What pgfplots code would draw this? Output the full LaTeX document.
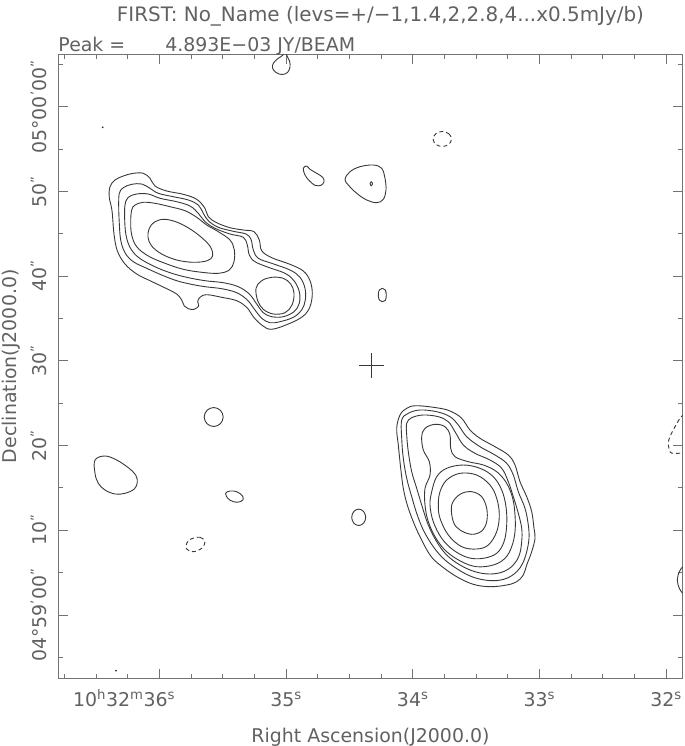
\documentclass[border=0pt]{standalone}
\usepackage{fontspec}
\setmainfont{DejaVu Sans}
\usepackage{pgfplots}
\pgfplotsset{compat=1.18}
\definecolor{txt}{gray}{0.38}
\definecolor{cnt}{gray}{0.22}
\definecolor{frm}{gray}{0.45}
\newcommand\tf{\fontsize{19}{23}\selectfont}
\newcommand\hh[1]{\textsuperscript{#1}}

\begin{document}
\begin{tikzpicture}
\useasboundingbox (0,0) rectangle (685bp,746bp);
\begin{axis}[
  at={(58.3bp,67.7bp)}, anchor=south west,
  scale only axis, width=624.4bp, height=624bp,
  % positions are map pixels of the FIRST cutout, y counted downwards
  xmin=58.3, xmax=682.7, ymin=54.3, ymax=678.3, y dir=reverse,
  clip mode=individual,
  axis line style={frm, line width=0.8bp},
  tick style={frm, line width=0.8bp},
  major tick length=9.5bp, minor tick length=4.5bp,
  xtick={159.3,286,412.7,539.3,666},
  xticklabels={\llap{10\hh{h}32\hh{m}}36\hh{s},35\hh{s},34\hh{s},33\hh{s},32\hh{s}},
  minor xtick={64.3,96,127.7,191,222.7,254.3,317.7,349.3,381,444.3,476,507.7,571,602.7,634.3},
  ytick={106.7,191.4,276.1,360.8,445.5,530.2,614.9},
  yticklabels={05°00\hh{'}00\hh{''},50\hh{''},40\hh{''},30\hh{''},20\hh{''},10\hh{''},04°59\hh{'}00\hh{''}\hspace{30bp}},
  minor ytick={64.4,149,233.7,318.4,403.1,487.8,572.5,657.2},
  tick label style={font=\tf, text=txt},
  xticklabel style={anchor=base, yshift=-27.7bp},
  yticklabel style={xshift=-11.6bp, rotate=90, anchor=base},
  title={FIRST: No\_Name (levs=+/−1,1.4,2,2.8,4...x0.5mJy/b)},
  every axis title/.style={at={(axis description cs:0.516,1)}, anchor=base, yshift=32.5bp,
    font=\fontsize{20}{24}\selectfont, text=txt},
  xlabel={Right Ascension(J2000.0)},
  every axis x label/.style={at={(axis description cs:0.5,0)}, anchor=base, yshift=-63.7bp,
    font=\tf, text=txt},
  ylabel={Declination(J2000.0)},
  every axis y label/.style={at={(axis description cs:0,0.5)}, xshift=-41.6bp, rotate=90, anchor=base,
    font=\tf, text=txt},
  c/.style={cnt, line width=0.9bp, smooth cycle, tension=0.6},
  o/.style={cnt, line width=0.9bp, smooth, tension=0.6},
  n/.style={c, dash pattern=on 4bp off 3bp},
]
\node[anchor=base west, inner sep=0pt, font=\tf, text=txt, yshift=2.6bp] at (axis description cs:0,1)
  {Peak =\hspace{40bp}4.893E−03 JY/BEAM};

% north-east lobe
\addplot[c] coordinates {(110,186.7)(115,180)(123.3,176)(133.3,173.3)(143.3,173.3)(150,178.3)(155,186)(166.7,191)(183.3,194.3)(196.7,199.3)(205,208.3)(208.3,216.7)(216.7,222.7)(230,227.7)(243.3,230)(254,231.7)(259.3,240)(261.7,250.7)(271.7,257.7)(290,264.3)(303.3,271)(310,280.7)(312.3,293.3)(310,306.7)(303.3,316)(290,323.3)(271.7,329.3)(261.7,325)(253.3,316.7)(246.7,307.3)(236.7,300.7)(221.7,297.3)(206.7,294.7)(200,297.3)(197.7,301.7)(198.7,306)(194,309.3)(188.3,308.7)(184.3,306)(181.7,300)(176.7,294)(166.7,288.7)(150,280.7)(136.7,274)(125,264)(117.3,250.7)(114,234)(112,210.7)(109.3,197.3)};
\addplot[c] coordinates {(119.3,193.3)(123.3,187.7)(131.7,184.3)(141.7,184)(150,188.3)(158.3,193.3)(173.3,196.7)(188.3,200)(198.3,205)(203.3,213.3)(208.3,220.7)(218.3,227.3)(233.3,231.3)(246,234)(251,239.3)(253.3,250)(258.3,258.3)(271.7,263.3)(290,270)(300,277.3)(305,288.3)(305.3,300)(301.7,310)(293.3,317.3)(280,321.7)(270,322.7)(261.7,318.3)(255,310)(247.3,300)(236.7,292.7)(221.7,288.7)(205,286.7)(190,284)(176.7,280.7)(161.7,275)(146.7,268.3)(133.3,261.7)(125,252.7)(120.7,240)(119.3,223.3)(118.7,206.7)};
\addplot[c] coordinates {(125,205)(128.3,197.3)(136.7,194)(148.3,194)(160,198.3)(176.7,201.7)(190,206)(198.3,213.3)(205,221.7)(215,228.3)(230,234)(243.3,237.3)(247.3,245)(249.3,255)(255,261.7)(268.3,267.3)(285,273.3)(294,280.7)(299.3,291.7)(299.3,303.3)(294,311.7)(283.3,316.7)(271.7,316.7)(263.3,312.7)(256.7,304)(249.3,294)(238.3,286.7)(223.3,282.7)(205,280.7)(186.7,277.3)(170,272.7)(153.3,266)(138.3,257.3)(130,247.3)(126,235)(124.7,220)};
\addplot[c] coordinates {(131.7,210)(135,205)(143.3,202.3)(155,203.3)(170,206.7)(185,210.7)(196.7,217.3)(206.7,225)(218.3,231.7)(230,240)(234.3,250)(234,261.7)(229.3,270)(218.3,273.3)(201.7,272.3)(183.3,269.3)(165,263.3)(148.3,256)(136.7,246.7)(131.7,235)(130.7,221.7)};
\addplot[c] coordinates {(256,288.3)(261.7,280.7)(271.7,277.3)(283.3,278.3)(290.7,284)(294,293.3)(292,305)(285,312.7)(273.3,314)(263.3,309.3)(257.7,300.7)};
\addplot[c] coordinates {(149.3,228.3)(155,221.7)(165,219.3)(178.3,222.7)(191.7,230)(203.3,239)(210.7,247.3)(212.7,255.7)(207.3,260.7)(193.3,262.3)(176.7,260)(161.7,254)(151.7,246)(148,237.3)};

% south-west lobe
\addplot[c] coordinates {(396.7,428.3)(400,415)(406.7,408.3)(416.7,405.7)(440,408.3)(451.7,411.7)(461.7,418.3)(470,430)(480,438.3)(495,446.7)(508.3,455)(515,465)(520,481.7)(526.7,496.7)(531.7,511.7)(534,528.3)(535,538.3)(531.7,551.7)(526.7,565)(523.3,575)(516.7,581.7)(506.7,585)(490,586.7)(473.3,584.3)(456.7,576.7)(440,565)(430,555)(420,536.7)(413.3,521.7)(407.3,505)(403.3,488.3)(400.7,468.3)(398.3,445)};
\addplot[c] coordinates {(401.7,438.3)(401.7,420)(408.3,413.3)(420,410)(436.7,411.7)(450,416.7)(458.3,425)(466.7,436.7)(480,446.7)(495,455)(506.7,463.3)(513.3,475)(518.3,491.7)(525,508.3)(528.3,525)(529,538.3)(526.7,551.7)(522.7,563.3)(516.7,571.7)(506.7,578.3)(493.3,580.7)(476.7,578.3)(461.7,571.7)(445,560)(433.3,546.7)(423.3,530)(416.7,513.3)(411.7,496.7)(406.7,478.3)(403.3,458.3)};
\addplot[c] coordinates {(406.7,435)(406.7,423.3)(411.7,417.7)(423.3,415)(438.3,416.7)(448.3,421.7)(455,431.7)(463.3,445)(475,453.3)(490,460)(501.7,468.3)(508.3,481.7)(513.3,496.7)(518.3,513.3)(521.7,528.3)(521.7,541.7)(519.3,555)(513.3,565)(503.3,571.7)(490,574)(475,571.7)(460,565)(446.7,555)(436.7,541.7)(428.3,525)(422.7,508.3)(416.7,488.3)(411.7,471.7)(408.3,451.7)};
\addplot[c] coordinates {(421.7,436.7)(425,428.3)(435,424.3)(445,426.7)(450,435)(450.7,448.3)(455,456.7)(468.3,461.7)(483.3,465)(496.7,471.7)(506.7,483.3)(512.7,498.3)(515,515)(515,531.7)(511.7,546.7)(505,558.3)(493.3,565)(476.7,566.7)(461.7,561.7)(446.7,551.7)(436,538.3)(428.3,521.7)(425,505)(425,488.3)(430,475)(429.3,461.7)(423.3,450)};
\addplot[c] coordinates {(430,505)(431.7,491.7)(436.7,476.7)(446.7,468.3)(463.3,465)(480,468.3)(493.3,476.7)(501.7,490)(506,506.7)(506.7,525)(504,541.7)(496.7,553.3)(483.3,558.3)(468.3,557.7)(453.3,550)(441.7,538.3)(433.3,521.7)};
\addplot[c] coordinates {(438.3,505)(440,491.7)(446.7,480)(460,473.3)(476.7,475)(490,485)(496.7,498.3)(499.3,515)(496.7,531.7)(488.3,545)(476.7,549)(461.7,546.7)(448.3,535)(440,518.3)};
\addplot[c] coordinates {(451.7,505)(460,494.3)(471.7,491.7)(481.7,496.7)(486.7,508.3)(486.7,521.7)(481.7,531)(471.7,534.3)(460,530)(453.3,521.7)};

% small islands
\addplot[c] coordinates {(95,460)(105,456)(116.7,460)(128.3,467.7)(135.7,475)(137.3,482.3)(134.3,489)(125,493.3)(115,494)(105,490)(98.3,483.3)(95,473.3)};
\addplot[c] coordinates {(213.7,407.5)(220.4,410.3)(223.2,417)(220.4,423.7)(213.7,426.5)(207,423.7)(204.2,417)(207,410.3)};
\addplot[c] coordinates {(225.7,493.3)(230,491)(236.7,491.7)(242.3,495.7)(243,499.7)(239,502)(233.3,501.7)(227.7,498.3)};
\addplot[c] coordinates {(358.7,509.1)(363.6,511.5)(365.7,517.3)(363.6,523.1)(358.7,525.5)(353.8,523.1)(351.7,517.3)(353.8,511.5)};
\addplot[c] coordinates {(303.3,168.3)(306.7,166)(310,169.3)(316.7,173.3)(322.7,177.3)(324,181.7)(321,185.3)(315,185.3)(309.3,180.7)(305,175)};
\addplot[c] coordinates {(345,179.3)(350,171.7)(360,166.7)(373.3,165)(381.7,168.3)(385,178.3)(386,190)(383.3,199.3)(376.7,202.7)(366.7,200)(356.7,193.3)(348.3,185)};
\addplot[c] coordinates {(371.3,181.7)(372.5,183.7)(371.3,185.7)(370.1,183.7)};
\addplot[c] coordinates {(382.3,288.3)(385.3,290)(386.3,295)(385.3,300.5)(382.3,301.7)(379.3,300)(378.3,295)(379.3,290)};
\addplot[o] coordinates {(284,50)(283,55)(278,58.5)(273.5,63)(272.5,68)(276,72.5)(282,74.5)(287.5,72.5)(290,67)(289.5,61)(287,56)(286,50)};
\addplot[o] coordinates {(686,562)(682.7,566.7)(679.3,571.7)(677.3,580)(679.3,588.3)(682.7,593.3)(686,597)};

% negative contours
\addplot[n] coordinates {(191,539)(200,537.3)(205,541.7)(201.7,548.3)(193.3,551.7)(186.7,549)(186.7,543.3)};
\addplot[n] coordinates {(442.3,131.5)(448.8,133.7)(451.5,139)(448.8,144.3)(442.3,146.5)(435.8,144.3)(433.1,139)(435.8,133.7)};
\addplot[o, dash pattern=on 4bp off 3bp] coordinates {(684,414)(680,418.3)(675,426.7)(670,436.7)(668.3,443.3)(670,451.7)(673.3,453.3)(678.3,453.3)(686,452.5)};

% single-pixel specks
\addplot[cnt, only marks, mark=*, mark size=0.7bp] coordinates {(102.7,127.3)(116,670.7)};

% catalogue position
\addplot[cnt, line width=0.9bp] coordinates {(359,365.5)(384,365.5)};
\addplot[cnt, line width=0.9bp] coordinates {(371.5,353)(371.5,378)};
\end{axis}
\end{tikzpicture}
\end{document}
